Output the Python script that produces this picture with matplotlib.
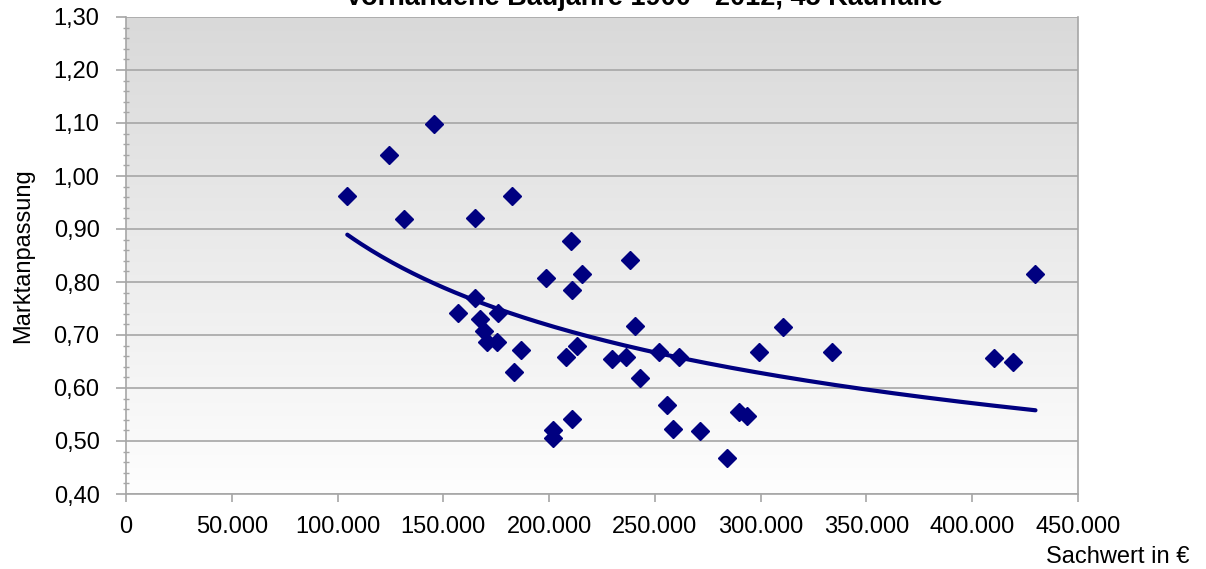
import numpy as np
import matplotlib
matplotlib.use("Agg")
import matplotlib.pyplot as plt
from matplotlib.ticker import FuncFormatter, MultipleLocator

plt.rcParams['font.family'] = ['Liberation Sans', 'DejaVu Sans']

# Kauffälle: Sachwert in Euro, Marktanpassung
sachwert = [104600, 124500, 131200, 145800, 164800, 182300, 198400, 210200,
            210700, 215400, 238200, 240500, 156700, 165200, 167100, 169000,
            170500, 175200, 175700, 186600, 183200, 207900, 213100, 201700,
            201700, 210700, 229600, 236300, 242900, 251900, 261400, 255700,
            258500, 271300, 284100, 289800, 293600, 299200, 310600, 333800,
            410500, 419500, 429900]
marktanpassung = [0.962, 1.040, 0.919, 1.098, 0.921, 0.962, 0.808, 0.877,
                  0.785, 0.815, 0.842, 0.717, 0.742, 0.770, 0.730, 0.708,
                  0.687, 0.687, 0.742, 0.672, 0.630, 0.658, 0.679, 0.521,
                  0.506, 0.542, 0.655, 0.658, 0.619, 0.668, 0.658, 0.568,
                  0.523, 0.519, 0.468, 0.555, 0.547, 0.668, 0.715, 0.668,
                  0.657, 0.649, 0.815]

title = "Vorhandene Baujahre 1900 - 2012, 45 Kauffälle"
navy = "#000080"
grid_col = "#a6a6a6"

fig = plt.figure(figsize=(12.06, 5.69), dpi=100)
W, H = 1206, 569
ax = fig.add_axes([126 / W, 1 - 494 / H, (1078 - 126) / W, (494 - 17) / H])

ax.set_xlim(0, 450000)
ax.set_ylim(0.40, 1.30)

# gradient background of the plot area
grad = np.linspace(0, 1, 256).reshape(-1, 1)
ax.imshow(grad, cmap=matplotlib.colors.LinearSegmentedColormap.from_list(
    "bg", ["#fefefe", "#d9d9d9"]), origin="lower", aspect="auto",
    extent=[0, 450000, 0.40, 1.30], zorder=0)

ax.yaxis.set_major_locator(MultipleLocator(0.10))
ax.yaxis.set_minor_locator(MultipleLocator(0.02))
ax.xaxis.set_major_locator(MultipleLocator(50000))
ax.grid(axis="y", which="major", color=grid_col, linewidth=1.2, zorder=1)
ax.set_axisbelow(True)

ax.yaxis.set_major_formatter(FuncFormatter(lambda v, p: f"{v:.2f}".replace(".", ",")))
ax.xaxis.set_major_formatter(FuncFormatter(
    lambda v, p: "0" if v == 0 else f"{int(round(v)):,}".replace(",", ".")))

for side in ["left", "bottom", "right", "top"]:
    ax.spines[side].set_color(grid_col)
    ax.spines[side].set_linewidth(1.2)
ax.spines["top"].set_visible(False)

ax.tick_params(axis="y", which="major", length=7, width=1.2, color=grid_col,
               labelsize=17, pad=12)
ax.tick_params(axis="y", which="minor", length=4, width=1.0, color=grid_col,
               direction="inout")
ax.tick_params(axis="x", which="major", length=6, width=1.2, color=grid_col,
               labelsize=17, pad=10)

# power trend line (least squares in log-log, like Excel's power trend)
lx = np.log(sachwert)
ly = np.log(marktanpassung)
b, ln_a = np.polyfit(lx, ly, 1)
xt = np.linspace(min(sachwert), max(sachwert), 200)
ax.plot(xt, np.exp(ln_a) * xt ** b, color=navy, linewidth=3, zorder=3,
        solid_capstyle="round")

ax.plot(sachwert, marktanpassung, linestyle="none", marker="D",
        markersize=9, color=navy, zorder=4)

ax.set_ylabel("Marktanpassung", fontsize=17, labelpad=14)
fig.text(1190 / W, 1 - 563 / H, "Sachwert in €", fontsize=17, ha="right",
         va="baseline")
fig.text(644 / W, 1 - 5 / H, title, fontsize=19.5, fontweight="bold",
         ha="center", va="baseline")

fig.savefig("out.png", dpi=100)
